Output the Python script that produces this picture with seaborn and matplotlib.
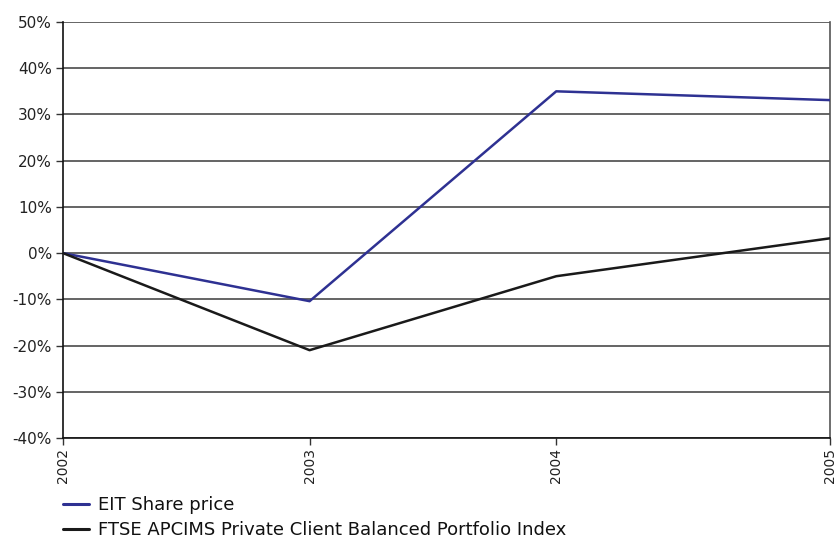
import numpy as np
import pandas as pd
import matplotlib
matplotlib.use("Agg")
import matplotlib.pyplot as plt
import seaborn as sns
from matplotlib.ticker import FuncFormatter

# x positions (the last point sits a bit further out)
year_positions = [2002.0, 2003.0, 2004.0, 2005.11]
year_labels = ["2002", "2003", "2004", "2005"]
eit_share_price = [0.0, -10.4, 35.0, 33.1]
ftse_apcims = [0.0, -21.0, -5.0, 3.2]
series_names = ["EIT Share price", "FTSE APCIMS Private Client Balanced Portfolio Index"]
series_colors = ["#2e3192", "#1a1a1a"]

df = pd.DataFrame({
    "year": year_positions * 2,
    "value": eit_share_price + ftse_apcims,
    "series": [series_names[0]] * len(year_positions) + [series_names[1]] * len(year_positions),
})

sns.set_theme(style="white")
plt.rcParams["font.family"] = ["DejaVu Sans"]

fig = plt.figure(figsize=(8.35, 5.35), dpi=100)
ax = fig.add_axes([0.0754, 0.1813, 0.9186, 0.7776])

sns.lineplot(data=df, x="year", y="value", hue="series", palette=series_colors,
             linewidth=1.8, ax=ax, legend=False, zorder=3)

ax.set_xlim(year_positions[0], year_positions[-1])
ax.set_ylim(-40, 50)
ax.set_yticks(np.arange(-40, 51, 10))
ax.set_xticks(year_positions)
ax.set_xticklabels(year_labels)
ax.yaxis.set_major_formatter(FuncFormatter(lambda v, p: f"{v:.0f}%"))
ax.grid(axis="y", color="#3a3a3a", linewidth=1.1)
ax.set_xlabel("")
ax.set_ylabel("")
ax.tick_params(axis="x", labelrotation=90, labelsize=10, length=5, width=1, color="#333333",
               bottom=True, direction="out", pad=2)
ax.tick_params(axis="y", labelsize=11, length=5, width=1, color="#333333", left=True,
               direction="out", pad=3)
for lbl in ax.get_xticklabels() + ax.get_yticklabels():
    lbl.set_color("#222222")

for side in ["left", "bottom"]:
    ax.spines[side].set_color("#111111")
    ax.spines[side].set_linewidth(1.2)
ax.spines["right"].set_color("#555555")
ax.spines["right"].set_linewidth(1.2)
ax.spines["top"].set_visible(False)

handles = [plt.Line2D([0], [0], color=c, linewidth=2.2) for c in series_colors]
fig.legend(handles, series_names, loc="lower left", bbox_to_anchor=(0.0564, -0.038),
           frameon=False, fontsize=13, handlelength=1.4, handletextpad=0.5,
           labelspacing=0.4, labelcolor="#111111")

fig.savefig("out.png", dpi=100)
